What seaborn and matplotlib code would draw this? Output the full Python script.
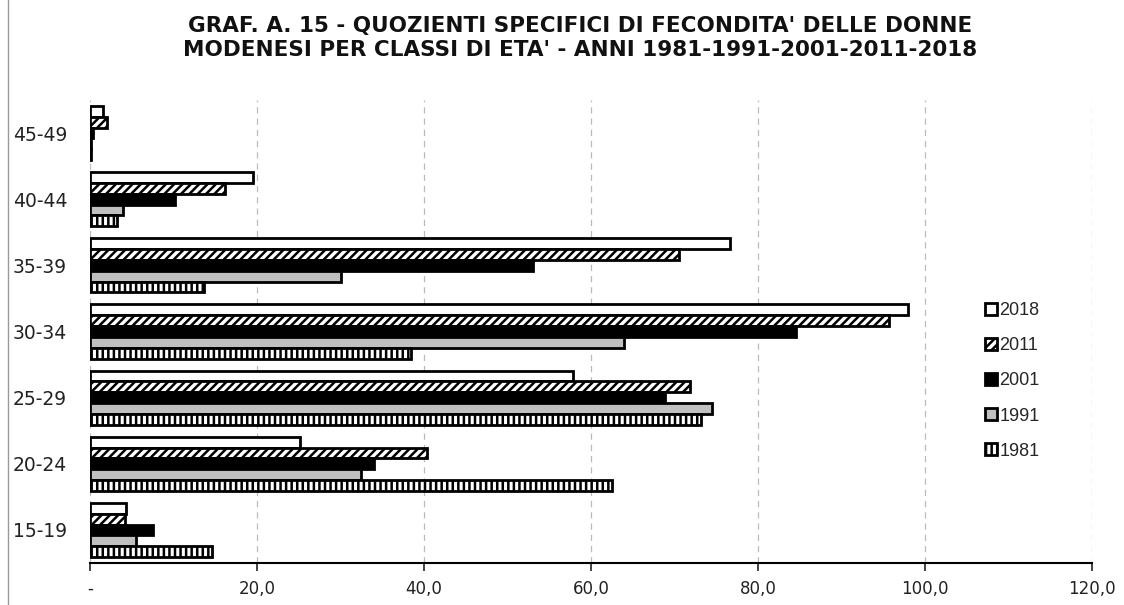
import pandas as pd
import matplotlib.pyplot as plt
import seaborn as sns
from matplotlib.lines import Line2D

# Classi di età (dall'alto in basso) e anni
classi = ['45-49', '40-44', '35-39', '30-34', '25-29', '20-24', '15-19']
anni = ['2018', '2011', '2001', '1991', '1981']

# Quozienti specifici di fecondità (per 1000 donne)
q2018 = [1.6, 19.5, 76.6, 98.0, 57.9, 25.1, 4.3]
q2011 = [2.0, 16.2, 70.5, 95.7, 71.9, 40.3, 4.2]
q2001 = [0.3, 10.2, 53.1, 84.6, 68.9, 34.0, 7.6]
q1991 = [0.1, 4.0, 30.0, 64.0, 74.5, 32.5, 5.5]
q1981 = [0.1, 3.2, 13.7, 38.4, 73.2, 62.5, 14.6]

serie = {'2018': q2018, '2011': q2011, '2001': q2001, '1991': q1991, '1981': q1981}
df = pd.DataFrame([(c, a, v) for a, vals in serie.items() for c, v in zip(classi, vals)],
                  columns=['classe', 'anno', 'valore'])

sns.set_style('white')
plt.rcParams['font.family'] = ['DejaVu Sans']
plt.rcParams['hatch.linewidth'] = 1.8

colori = {'2018': 'white', '2011': 'white', '2001': 'black', '1991': '#c0c0c0', '1981': 'white'}
tratteggi = {'2018': None, '2011': '////', '2001': None, '1991': None, '1981': '|||'}

fig = plt.figure(figsize=(11.24, 6.05), dpi=100)
ax = fig.add_axes([90 / 1124, 1 - 563 / 605, 1002 / 1124, 463 / 605])

sns.barplot(data=df, y='classe', x='valore', hue='anno', order=classi, hue_order=anni,
            palette=colori, orient='h', width=0.82, edgecolor='black', linewidth=2.0,
            ax=ax, legend=False)

for cont, anno in zip(ax.containers, anni):
    if tratteggi[anno]:
        for p in cont.patches:
            p.set_hatch(tratteggi[anno])
            # tratteggio grigio per il 1981, se la versione lo permette
            if anno == '1981' and hasattr(p, 'set_hatchcolor'):
                p.set_hatchcolor('#666666')

# Assi
ax.set_xlim(0, 120)
ax.set_ylim(6.5, -0.5)
ax.set_xticks(range(0, 121, 20))
ax.set_xticklabels(['-'] + [f'{v},0' for v in range(20, 121, 20)])
ax.tick_params(axis='x', bottom=True, direction='out', length=6, width=1.2,
               labelsize=12, colors='#222222', pad=6)
ax.tick_params(axis='y', left=False, labelsize=13.5, colors='#222222', pad=13)
ax.set_xlabel('')
ax.set_ylabel('')
for lato in ['top', 'right', 'left']:
    ax.spines[lato].set_visible(False)
ax.spines['bottom'].set_color('black')
ax.spines['bottom'].set_linewidth(1.5)
ax.xaxis.grid(True, linestyle=(0, (5, 4)), color='#bbbbbb', linewidth=0.9)
ax.set_axisbelow(True)

# Legenda
ax.legend(ax.containers, anni, loc='upper left', bbox_to_anchor=(0.877, 0.598),
          frameon=False, prop={'family': 'Liberation Sans', 'size': 13},
          handlelength=0.65, handleheight=0.65, handletextpad=0.15, labelspacing=1.0)

# Titolo
fig.text(580 / 1124, 1 - 26 / 605, "GRAF. A. 15 - QUOZIENTI SPECIFICI DI FECONDITA' DELLE DONNE",
         ha='center', va='center', fontsize=15.5, fontweight='bold', color='#111111')
fig.text(580 / 1124, 1 - 50 / 605, "MODENESI PER CLASSI DI ETA' - ANNI 1981-1991-2001-2011-2018",
         ha='center', va='center', fontsize=15.5, fontweight='bold', color='#111111')

# Bordo sinistro della cornice
fig.add_artist(Line2D([8 / 1124, 8 / 1124], [0, 1], color='#999999', linewidth=1))

fig.savefig('out.png', dpi=100)
